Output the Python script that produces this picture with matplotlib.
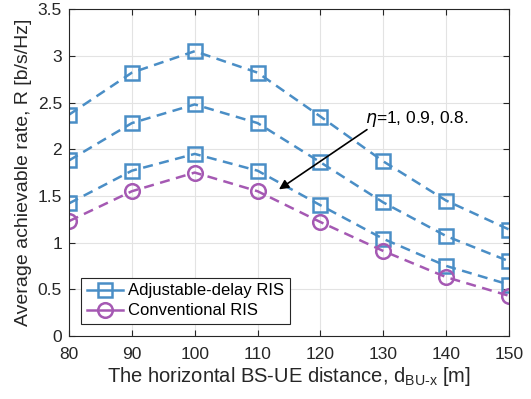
import numpy as np
import matplotlib
matplotlib.use("Agg")
import matplotlib.pyplot as plt

plt.rcParams['font.family'] = ['Liberation Sans', 'DejaVu Sans']
plt.rcParams['mathtext.fontset'] = 'custom'
plt.rcParams['mathtext.rm'] = 'Liberation Sans'

# distancias horizontales BS-UE
dist = [80, 90, 100, 110, 120, 130, 140, 150]

# RIS con retardo ajustable, eta = 1, 0.9, 0.8
rate_eta1 = [2.37, 2.82, 3.05, 2.82, 2.35, 1.87, 1.45, 1.14]
rate_eta09 = [1.88, 2.28, 2.48, 2.28, 1.86, 1.43, 1.07, 0.80]
rate_eta08 = [1.42, 1.77, 1.95, 1.77, 1.40, 1.04, 0.75, 0.55]

# RIS convencional
rate_conv = [1.23, 1.55, 1.75, 1.55, 1.22, 0.91, 0.63, 0.43]

azul = '#4a8ec6'
morado = '#a559b3'
gris = '#262626'

fig = plt.figure(figsize=(5.31, 3.99), dpi=100)
ax = fig.add_axes([0.130, 0.158, 0.8286, 0.819])

estilo = dict(linestyle='--', linewidth=1.8, dashes=(4, 2.6), markersize=10.5,
              markerfacecolor='none', markeredgewidth=1.8)

ax.plot(dist, rate_eta1, marker='s', color=azul, label='Adjustable-delay RIS', **estilo)
ax.plot(dist, rate_eta09, marker='s', color=azul, **estilo)
ax.plot(dist, rate_eta08, marker='s', color=azul, **estilo)
ax.plot(dist, rate_conv, marker='o', color=morado, label='Conventional RIS', **estilo)

# anotacion de eta
ax.text(127.1, 2.32, r'$\eta$=1, 0.9, 0.8.', fontsize=12.5, color='black',
        ha='left', va='center')
ax.annotate('', xy=(113.4, 1.57), xytext=(127.4, 2.21),
            arrowprops=dict(arrowstyle='-|>', color='black', lw=1.2,
                            mutation_scale=14, shrinkA=0, shrinkB=0))

ax.set_xlim(80, 150)
ax.set_ylim(0, 3.5)
ax.set_xticks(np.arange(80, 151, 10))
ax.set_yticks(np.arange(0, 3.51, 0.5))
ax.set_yticklabels(['0', '0.5', '1', '1.5', '2', '2.5', '3', '3.5'])
ax.tick_params(direction='in', top=True, right=True, labelsize=12.5,
               colors=gris, length=4)
ax.tick_params(axis='x', pad=8)
ax.tick_params(axis='y', pad=5)
ax.grid(True, color='#e3e3e3', linewidth=0.8)
ax.set_axisbelow(True)
for s in ax.spines.values():
    s.set_color(gris)

ax.set_xlabel('The horizontal BS-UE distance, d$_{\\mathrm{BU\\text{-}x}}$ [m]',
              fontsize=14.5, color=gris, labelpad=2)
ax.set_ylabel('Average achievable rate, R [b/s/Hz]', fontsize=14, color=gris, labelpad=4)

leg = ax.legend(loc='lower left', fontsize=12, fancybox=False, edgecolor=gris,
                framealpha=1, handlelength=2.2, handletextpad=0.3,
                borderaxespad=0.7, borderpad=0.35, labelspacing=0.3)
leg.get_frame().set_linewidth(0.8)
for ln in leg.get_lines():
    ln.set_linestyle('-')

fig.savefig('out.png', dpi=100)
